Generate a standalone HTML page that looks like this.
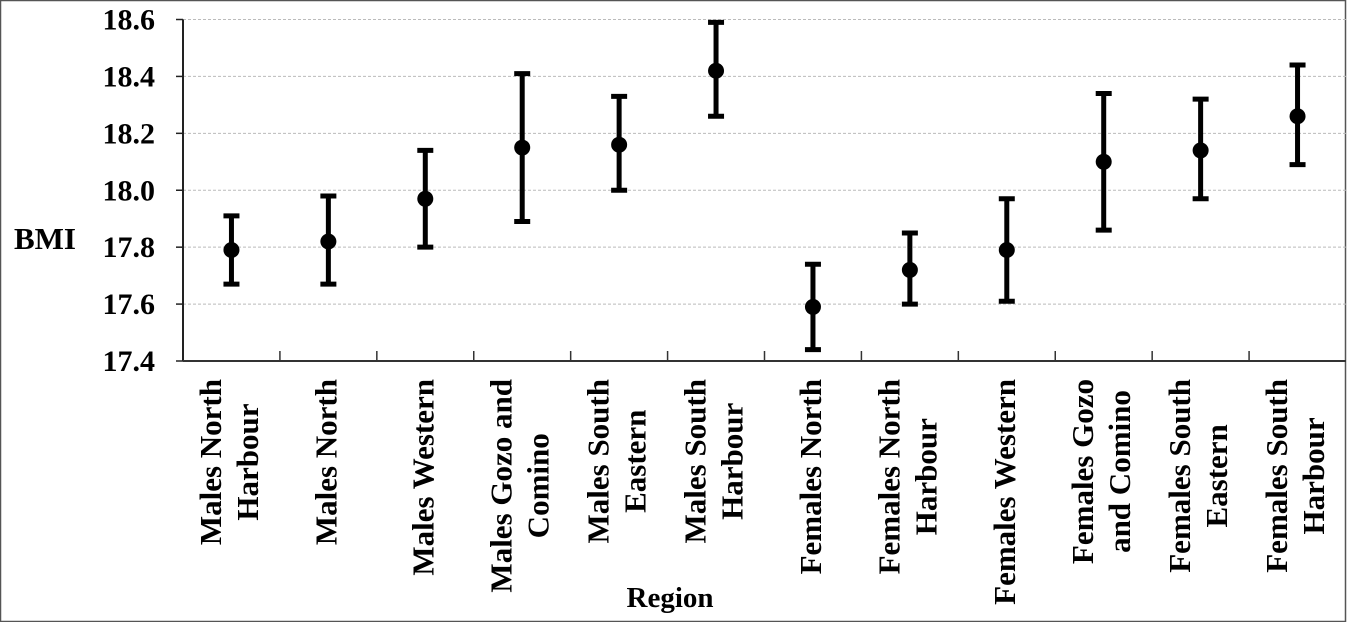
<!DOCTYPE html>
<html><head><meta charset="utf-8"><style>
html,body{margin:0;padding:0;background:#fff;}
svg{display:block;font-family:"Liberation Serif",serif;font-weight:bold;}
</style></head><body>
<svg id="chart" width="1347" height="622" viewBox="0 0 1347 622" xmlns="http://www.w3.org/2000/svg">
<rect x="0.5" y="0.5" width="1345" height="621" fill="#fff" stroke="#555" stroke-width="1.5"/>
<g id="grid"></g><g id="axes"></g><g id="marks"></g><g id="labels"></g>
<text x="45" y="249" font-size="31" text-anchor="middle">BMI</text>
<text x="670" y="607" font-size="29" text-anchor="middle">Region</text>
</svg>
<script>
const categories=[["Males North","Harbour"],["Males North"],["Males Western"],["Males Gozo and","Comino"],["Males South","Eastern"],["Males South","Harbour"],["Females North"],["Females North","Harbour"],["Females Western"],["Females Gozo","and Comino"],["Females South","Eastern"],["Females South","Harbour"]];
const means=[17.79,17.82,17.97,18.15,18.16,18.42,17.59,17.72,17.79,18.10,18.14,18.26];
const uppers=[17.91,17.98,18.14,18.41,18.33,18.59,17.74,17.85,17.97,18.34,18.32,18.44];
const lowers=[17.67,17.67,17.80,17.89,18.00,18.26,17.44,17.60,17.61,17.86,17.97,18.09];
const yTicks=["17.4","17.6","17.8","18.0","18.2","18.4","18.6"];
const NS="http://www.w3.org/2000/svg";
const L=183,R=1346,T=19.5,B=361,yMin=17.4,yMax=18.6;
const n=categories.length,bw=(R-L)/n;
const y=v=>B-(v-yMin)/(yMax-yMin)*(B-T);
const x=i=>L+bw*(i+0.5);
function mk(tag,attrs,parent){const e=document.createElementNS(NS,tag);for(const k in attrs)e.setAttribute(k,attrs[k]);parent.appendChild(e);return e;}
const grid=document.getElementById('grid'),axes=document.getElementById('axes'),marks=document.getElementById('marks'),labels=document.getElementById('labels');
yTicks.forEach(t=>{const v=parseFloat(t),yy=y(v);
 if(v>yMin){const g=mk('line',{x1:L,x2:R,y1:yy,y2:yy,stroke:'#bbb','stroke-width':1,'stroke-dasharray':'3,2'},grid);
 
 }
 const tk=mk('line',{x1:L-7,x2:L,y1:yy,y2:yy,stroke:'#222','stroke-width':1.5},axes);
 
 
 const tl=mk('text',{x:155,y:yy+10,'font-size':30,'text-anchor':'end'},labels);tl.textContent=t;
 
 
});
const ya=mk('line',{x1:L,x2:L,y1:T,y2:B,stroke:'#222','stroke-width':2},axes);


const xa=mk('line',{x1:L,x2:R,y1:B,y2:B,stroke:'#333','stroke-width':2},axes);


for(let i=1;i<n;i++){const xx=L+bw*i;const tk=mk('line',{x1:xx,x2:xx,y1:B-10,y2:B,stroke:'#333','stroke-width':1.5},axes);
 
 }
categories.forEach((lines,i)=>{const cx=x(i);
 const g=mk('g',{},marks);
 
 
 mk('line',{x1:cx,x2:cx,y1:y(uppers[i]),y2:y(lowers[i]),stroke:'#000','stroke-width':5},g);
 mk('line',{x1:cx-8,x2:cx+8,y1:y(uppers[i]),y2:y(uppers[i]),stroke:'#000','stroke-width':5},g);
 mk('line',{x1:cx-8,x2:cx+8,y1:y(lowers[i]),y2:y(lowers[i]),stroke:'#000','stroke-width':5},g);
 const c=mk('circle',{cx:cx,cy:y(means[i]),r:8,fill:'#000'},marks);
 
 
 const tg=mk('g',{},labels);
 
 
 const ts=lines.map((ln,j)=>{const bx=cx+8+(j-(lines.length-1)/2)*37;
  const t=mk('text',{'font-size':31,'text-anchor':'middle'},tg);t.textContent=ln;t._bx=bx;return t;});
 let mx=0;ts.forEach(t=>{mx=Math.max(mx,t.getComputedTextLength());});
 ts.forEach(t=>{const cy=379+mx/2;t.setAttribute('transform','translate('+t._bx+','+cy+') rotate(-90)');});
});
</script>
</body></html>
